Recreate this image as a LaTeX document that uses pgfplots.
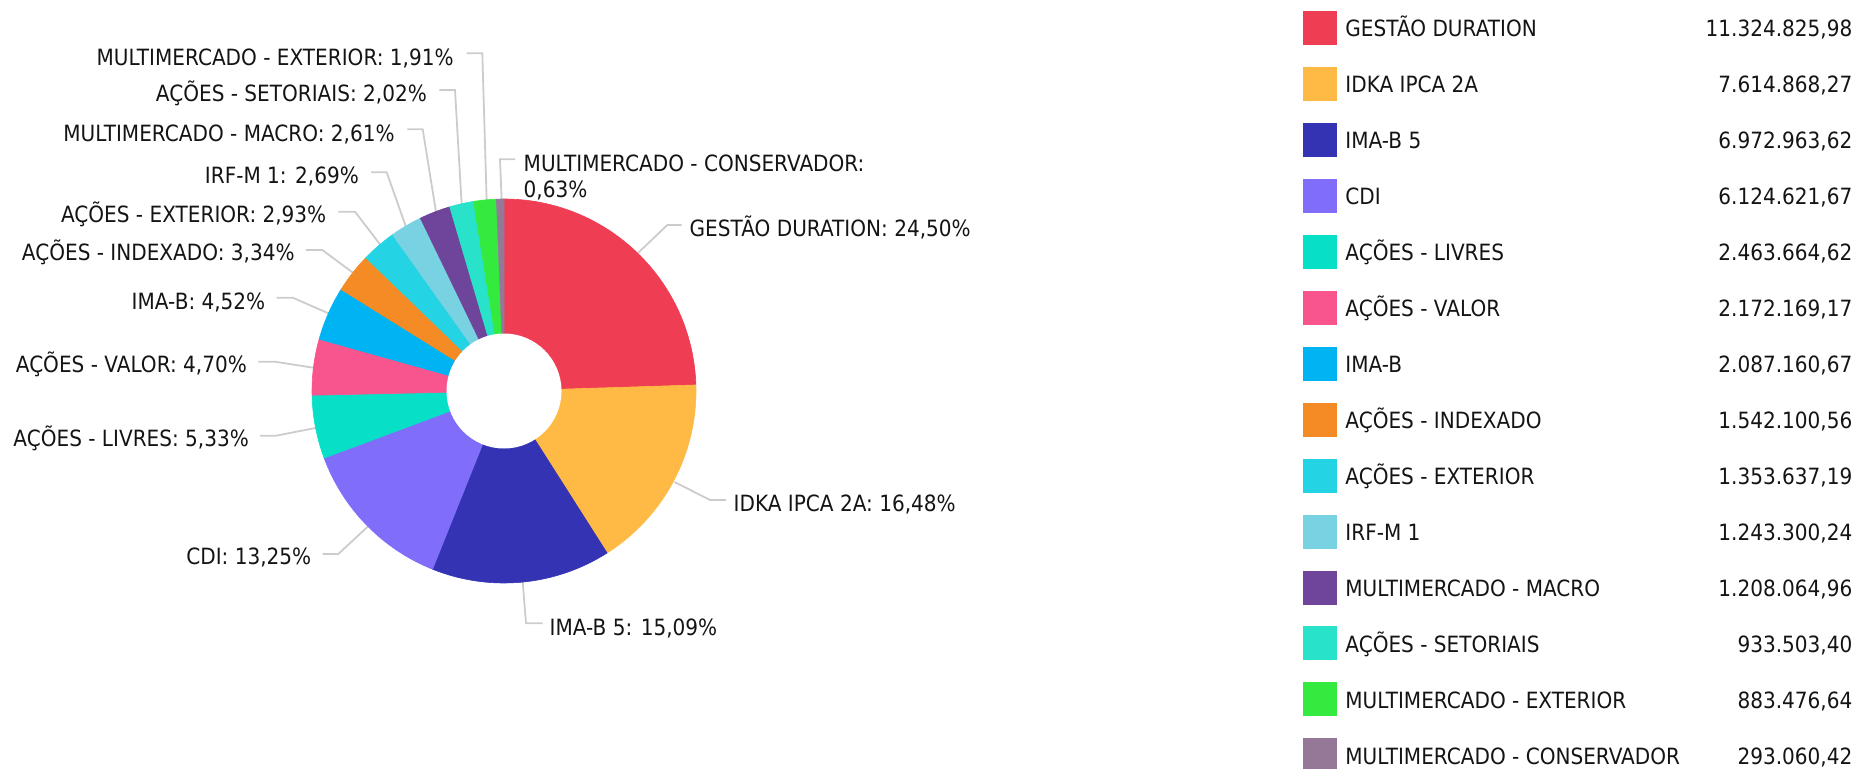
\documentclass[border=0pt]{standalone}
\usepackage{pgfplots}
\pgfplotsset{compat=1.18}
\usepackage{pgfplotstable}
\usepackage{fontspec}
\setmainfont{DejaVu Sans}[FakeStretch=0.895]

\definecolor{slice0}{HTML}{EF3D54}
\definecolor{slice1}{HTML}{FFBA45}
\definecolor{slice2}{HTML}{3333B4}
\definecolor{slice3}{HTML}{806EFA}
\definecolor{slice4}{HTML}{07E0C7}
\definecolor{slice5}{HTML}{F8548D}
\definecolor{slice6}{HTML}{00B3F2}
\definecolor{slice7}{HTML}{F58B24}
\definecolor{slice8}{HTML}{25D4E4}
\definecolor{slice9}{HTML}{79D2E2}
\definecolor{slice10}{HTML}{6F449B}
\definecolor{slice11}{HTML}{28E3CA}
\definecolor{slice12}{HTML}{34EA3F}
\definecolor{slice13}{HTML}{957897}
\definecolor{textcol}{HTML}{141414}
\definecolor{leadcol}{HTML}{CCCCCC}

\pgfplotstableread[col sep=semicolon]{
name;value;pct;shown
GESTÃO DURATION;11324825.98;24.50;11.324.825,98
IDKA IPCA 2A;7614868.27;16.48;7.614.868,27
IMA-B 5;6972963.62;15.09;6.972.963,62
CDI;6124621.67;13.25;6.124.621,67
AÇÕES - LIVRES;2463664.62;5.33;2.463.664,62
AÇÕES - VALOR;2172169.17;4.70;2.172.169,17
IMA-B;2087160.67;4.52;2.087.160,67
AÇÕES - INDEXADO;1542100.56;3.34;1.542.100,56
AÇÕES - EXTERIOR;1353637.19;2.93;1.353.637,19
IRF-M 1;1243300.24;2.69;1.243.300,24
MULTIMERCADO - MACRO;1208064.96;2.61;1.208.064,96
AÇÕES - SETORIAIS;933503.40;2.02;933.503,40
MULTIMERCADO - EXTERIOR;883476.64;1.91;883.476,64
MULTIMERCADO - CONSERVADOR;293060.42;0.63;293.060,42
}\slicedata

\begin{document}
\begin{tikzpicture}[
  every node/.style={text=textcol, font=\fontsize{11.2bp}{13bp}\selectfont, inner sep=0pt},
  leader/.style={draw=leadcol, line width=0.9bp}]
\begin{axis}[
  at={(0,0)}, anchor=south west,
  width=929.5bp, height=384.5bp, scale only axis,
  xmin=0, xmax=1859, ymin=0, ymax=769, y dir=reverse,
  hide axis, clip=true]

% leader lines
\draw[leader] (axis cs:466.7,53.3) -- (axis cs:482.3,53.3) -- (axis cs:486.7,202);
\draw[leader] (axis cs:439.3,90) -- (axis cs:455,90) -- (axis cs:461.7,205);
\draw[leader] (axis cs:407.3,129.3) -- (axis cs:422.7,129.3) -- (axis cs:436,212);
\draw[leader] (axis cs:371,172.3) -- (axis cs:386.7,172.3) -- (axis cs:406,227);
\draw[leader] (axis cs:338.3,211.7) -- (axis cs:355,211.7) -- (axis cs:380.5,245);
\draw[leader] (axis cs:306,250) -- (axis cs:322.3,250) -- (axis cs:354,273.5);
\draw[leader] (axis cs:276.7,297.7) -- (axis cs:292.7,297.7) -- (axis cs:330,314);
\draw[leader] (axis cs:258.3,361.7) -- (axis cs:275,361.7) -- (axis cs:315,368);
\draw[leader] (axis cs:260,435.7) -- (axis cs:276,435.7) -- (axis cs:318,427.5);
\draw[leader] (axis cs:322.7,554) -- (axis cs:338.3,554) -- (axis cs:369.5,525);
\draw[leader] (axis cs:515,159.3) -- (axis cs:500,159.3) -- (axis cs:501.7,201);
\draw[leader] (axis cs:681.7,225) -- (axis cs:667.3,225) -- (axis cs:638,253);
\draw[leader] (axis cs:726,500) -- (axis cs:710,500) -- (axis cs:674.5,482);
\draw[leader] (axis cs:542.7,623.3) -- (axis cs:526,623.3) -- (axis cs:522.7,582);

% donut slices and legend, from the table
\pgfplotsextra{
  \gdef\cum{0}
  \foreach \i in {0,...,13}{
    \pgfplotstablegetelem{\i}{pct}\of\slicedata
    \pgfmathsetmacro\aa{90-3.6*\cum}
    \pgfmathsetmacro\newcum{\cum+\pgfplotsretval}
    \pgfmathsetmacro\bb{90-3.6*\newcum}
    \global\let\cum\newcum
    \pgfmathsetmacro\xs{504+192*cos(\aa)}
    \pgfmathsetmacro\ys{391-192*sin(\aa)}
    \fill[slice\i, draw=slice\i, line width=0.3bp]
      (axis cs:504,391) -- (axis cs:\xs,\ys)
      arc[start angle=\aa, end angle=\bb, radius=96bp] -- cycle;
  }
  \fill[white] (axis cs:504,391) circle[radius=28.75bp];
  \foreach \i in {0,...,13}{
    \pgfmathsetmacro\ytop{11+55.95*\i}
    \pgfmathsetmacro\ybot{\ytop+34}
    \pgfmathsetmacro\ybl{36.7+55.95*\i}
    \fill[slice\i] (axis cs:1302.7,\ytop) rectangle (axis cs:1337.3,\ybot);
    \pgfplotstablegetelem{\i}{name}\of\slicedata
    \node[anchor=base west] at (axis cs:1345,\ybl) {\pgfplotsretval};
    \pgfplotstablegetelem{\i}{shown}\of\slicedata
    \node[anchor=base east] at (axis cs:1852.7,\ybl) {\pgfplotsretval};
  }
}

% slice labels
\node[anchor=base east] at (axis cs:454,65) {MULTIMERCADO - EXTERIOR: 1,91\%};
\node[anchor=base east] at (axis cs:427.3,101) {AÇÕES - SETORIAIS: 2,02\%};
\node[anchor=base east] at (axis cs:395,141) {MULTIMERCADO - MACRO: 2,61\%};
\node[anchor=base east] at (axis cs:359.3,183.3) {IRF-M 1: 2,69\%};
\node[anchor=base east] at (axis cs:326.7,222.7) {AÇÕES - EXTERIOR: 2,93\%};
\node[anchor=base east] at (axis cs:295,260) {AÇÕES - INDEXADO: 3,34\%};
\node[anchor=base east] at (axis cs:265.7,309.3) {IMA-B: 4,52\%};
\node[anchor=base east] at (axis cs:247.3,372.3) {AÇÕES - VALOR: 4,70\%};
\node[anchor=base east] at (axis cs:249.3,446.7) {AÇÕES - LIVRES: 5,33\%};
\node[anchor=base east] at (axis cs:311.7,564.3) {CDI: 13,25\%};
\node[anchor=base west] at (axis cs:523.3,171.7) {MULTIMERCADO - CONSERVADOR:};
\node[anchor=base west] at (axis cs:523.3,197.3) {0,63\%};
\node[anchor=base west] at (axis cs:689.3,236.7) {GESTÃO DURATION: 24,50\%};
\node[anchor=base west] at (axis cs:733.3,511) {IDKA IPCA 2A: 16,48\%};
\node[anchor=base west] at (axis cs:549.3,635) {IMA-B 5: 15,09\%};
\end{axis}
\pgfresetboundingbox
\path[use as bounding box] (0,0) rectangle (929.5bp,384.5bp);
\end{tikzpicture}
\end{document}
